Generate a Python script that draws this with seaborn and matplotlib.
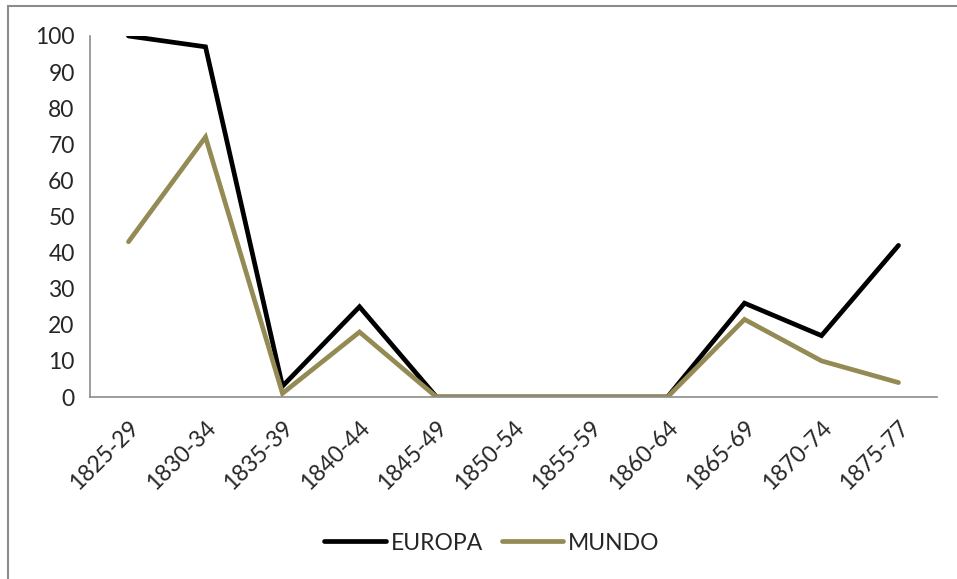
import numpy as np
import pandas as pd
import matplotlib.pyplot as plt
import seaborn as sns
from matplotlib.patches import Rectangle

periods = ['1825-29', '1830-34', '1835-39', '1840-44', '1845-49', '1850-54',
           '1855-59', '1860-64', '1865-69', '1870-74', '1875-77']
europa = [100, 97, 3, 25, 0, 0, 0, 0, 26, 17, 42]
mundo = [43, 72, 1, 18, 0, 0, 0, 0, 21.5, 10, 4]


def main():
    sns.set_style('white')
    plt.rcParams['font.family'] = ['Lato', 'DejaVu Sans']

    n = len(periods)
    df = pd.DataFrame({
        'pos': list(range(n)) * 2,
        'valor': europa + mundo,
        'serie': ['EUROPA'] * n + ['MUNDO'] * n,
    })

    fig = plt.figure(figsize=(9.57, 5.79), dpi=100)
    ax = fig.add_axes([90 / 957, 1 - 397 / 579, (937 - 90) / 957, (397 - 36) / 579])

    sns.lineplot(data=df, x='pos', y='valor', hue='serie',
                 palette={'EUROPA': '#000000', 'MUNDO': '#948A54'},
                 linewidth=3.4, ax=ax, legend=False)
    for line in ax.lines:
        line.set_solid_capstyle('round')
        line.set_solid_joinstyle('miter')

    ax.set_xlim(-0.5, n - 0.5)
    ax.set_ylim(0, 100)
    ax.set_yticks(range(0, 101, 10))
    ax.set_xticks(range(n))
    ax.set_xticklabels(periods, rotation=45, ha='right', va='top',
                       rotation_mode='anchor')
    ax.set_xticks(np.arange(-0.5, n, 1.0), minor=True)
    ax.tick_params(axis='x', which='major', length=0, pad=14, labelsize=16.5)
    ax.tick_params(axis='x', which='minor', length=6, width=1.2, color='#8c8c8c',
                   direction='out')
    ax.tick_params(axis='y', length=6, width=1.2, color='#8c8c8c', labelsize=16.5,
                   pad=5)
    ax.set_xlabel('')
    ax.set_ylabel('')
    for side in ['top', 'right']:
        ax.spines[side].set_visible(False)
    for side in ['left', 'bottom']:
        ax.spines[side].set_color('#8c8c8c')
        ax.spines[side].set_linewidth(1.2)
    ax.set_zorder(2)

    handles = [plt.Line2D([], [], color='#000000', lw=3.4, solid_capstyle='round'),
               plt.Line2D([], [], color='#948A54', lw=3.4, solid_capstyle='round')]
    fig.legend(handles, ['EUROPA', 'MUNDO'], loc='center',
               bbox_to_anchor=(492 / 957, 1 - 543 / 579), ncol=2, frameon=False,
               fontsize=16.5, handlelength=2.7, handletextpad=0.2, columnspacing=0.8)

    # outer chart frame (cut off at right and bottom)
    fig.patches.append(Rectangle((8 / 957, -0.2), 1.2, 1.2 - 6 / 579,
                                 transform=fig.transFigure, fill=False,
                                 edgecolor='#8c8c8c', linewidth=1.5))

    fig.savefig('out.png', dpi=100)


if __name__ == '__main__':
    main()
